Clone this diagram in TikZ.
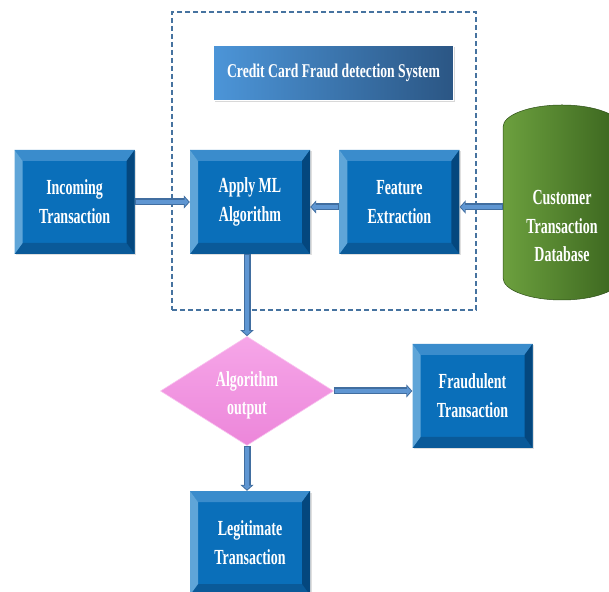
\documentclass[tikz,border=0pt]{standalone}
\usepackage{fontspec}
\newfontfamily\boxfont[FakeStretch=0.65]{Liberation Serif}
\newfontfamily\titlefont[FakeStretch=0.70]{Liberation Serif}
\usepackage{xcolor}
\usetikzlibrary{arrows.meta,positioning,calc,shapes.geometric,shadows}

\definecolor{bevmain}{RGB}{10,111,186}
\definecolor{bevtop}{RGB}{58,140,204}
\definecolor{bevleft}{RGB}{95,165,216}
\definecolor{bevright}{RGB}{4,71,126}
\definecolor{bevbottom}{RGB}{10,90,153}
\definecolor{titleL}{RGB}{76,149,216}
\definecolor{titleR}{RGB}{43,86,132}
\definecolor{flowedge}{RGB}{65,110,160}
\definecolor{flowfill}{RGB}{95,150,210}
\definecolor{frameblue}{RGB}{70,115,160}
\definecolor{pinkA}{RGB}{246,166,232}
\definecolor{pinkB}{RGB}{236,134,218}
\definecolor{cylA}{RGB}{108,160,62}
\definecolor{cylB}{RGB}{88,140,48}
\definecolor{cylC}{RGB}{58,100,30}

\begin{document}
\begin{tikzpicture}[x=1pt, y=1pt,
  bevelbox/.style={minimum width=120pt, minimum height=104pt, inner sep=0pt, align=center,
    text=white, font=\boxfont\bfseries\fontsize{21.5}{29}\selectfont,
    drop shadow={shadow xshift=1.5pt, shadow yshift=-1.5pt, opacity=0.25},
    path picture={
      \path (path picture bounding box.south west) coordinate (bsw)
            (path picture bounding box.north east) coordinate (bne)
            (path picture bounding box.north west) coordinate (bnw)
            (path picture bounding box.south east) coordinate (bse);
      \fill[bevmain] (bsw) rectangle (bne);
      \fill[bevtop] (bnw) -- (bne) -- ([shift={(-8pt,-11pt)}]bne) -- ([shift={(8pt,-11pt)}]bnw) -- cycle;
      \fill[bevbottom] (bsw) -- (bse) -- ([shift={(-8pt,11pt)}]bse) -- ([shift={(8pt,11pt)}]bsw) -- cycle;
      \fill[bevleft] (bsw) -- (bnw) -- ([shift={(8pt,-11pt)}]bnw) -- ([shift={(8pt,11pt)}]bsw) -- cycle;
      \fill[bevright] (bse) -- (bne) -- ([shift={(-8pt,-11pt)}]bne) -- ([shift={(-8pt,11pt)}]bse) -- cycle;
    }},
  titlebox/.style={minimum width=240pt, minimum height=55pt, inner sep=0pt,
    left color=titleL, right color=titleR, draw=white, line width=1.5pt,
    drop shadow={shadow xshift=1pt, shadow yshift=-2pt, opacity=0.3},
    text=white, font=\titlefont\bfseries\fontsize{19.5}{24}\selectfont},
  decision/.style={diamond, minimum width=173pt, minimum height=109pt, inner sep=0pt,
    align=center, top color=pinkA, bottom color=pinkB, draw=pinkA!70!white, line width=0.6pt,
    text=white, font=\boxfont\bfseries\fontsize{21.5}{28}\selectfont},
  sysframe/.style={draw=frameblue, dashed, dash pattern=on 5pt off 3pt, line width=1.8pt},
  flow/.style={line width=7pt, draw=flowedge, -{Triangle[width=13pt,length=6pt]},
    postaction={draw=flowfill, line width=4pt, -{Triangle[width=8.5pt,length=4pt]},
      shorten >=1.3pt, shorten <=1pt}}]
\useasboundingbox (0,0) rectangle (609,591);
\fill[white] (0,0) rectangle (609,591);

% system frame and title
\node[sysframe, minimum width=304pt, minimum height=298pt] (sys) at (324,430) {};
\node[titlebox] (title) at (333.5,518) {Credit Card Fraud detection System};

% top row
\node[bevelbox] (apply) at (250,389) {Apply ML\\Algorithm};
\node[bevelbox, left=55pt of apply] (in) {Incoming\\Transaction};
\node[bevelbox, right=29pt of apply] (feat) {Feature\\Extraction};

% database
\shade[left color=cylA, middle color=cylB, right color=cylC, draw=cylC!80!black, line width=0.5pt]
  (503,464) arc[start angle=180, end angle=0, x radius=59, y radius=22]
  -- (621,313) arc[start angle=0, end angle=-180, x radius=59, y radius=22] -- cycle;
\node[minimum width=118pt, minimum height=150pt, inner sep=0pt, align=center, text=white,
  font=\boxfont\bfseries\fontsize{21.5}{28.5}\selectfont] (db) at (562,365)
  {Customer\\Transaction\\Database};

% decision and results
\node[decision] (dec) at (247,200)
  {\smash{\raisebox{-9pt}{\begin{tabular}{@{}c@{}}Algorithm\\output\end{tabular}}}};
\node[bevelbox] (fraud) at (472.5,195) {Fraudulent\\Transaction};
\node[bevelbox] (legit) at (250,48) {Legitimate\\Transaction};

\draw[flow] (in.east) -- (apply.west);
\draw[flow] ([yshift=-5pt]feat.west) -- ([yshift=-5pt]apply.east);
\draw[flow] ([yshift=-5pt]feat.east -| db.west) -- ([yshift=-5pt]feat.east);
\draw[flow] (apply.south -| dec.north) -- (dec.north);
\draw[flow] (dec.east) -- (dec.east -| fraud.west);
\draw[flow] (dec.south) -- (dec.south |- legit.north);
\end{tikzpicture}
\end{document}
